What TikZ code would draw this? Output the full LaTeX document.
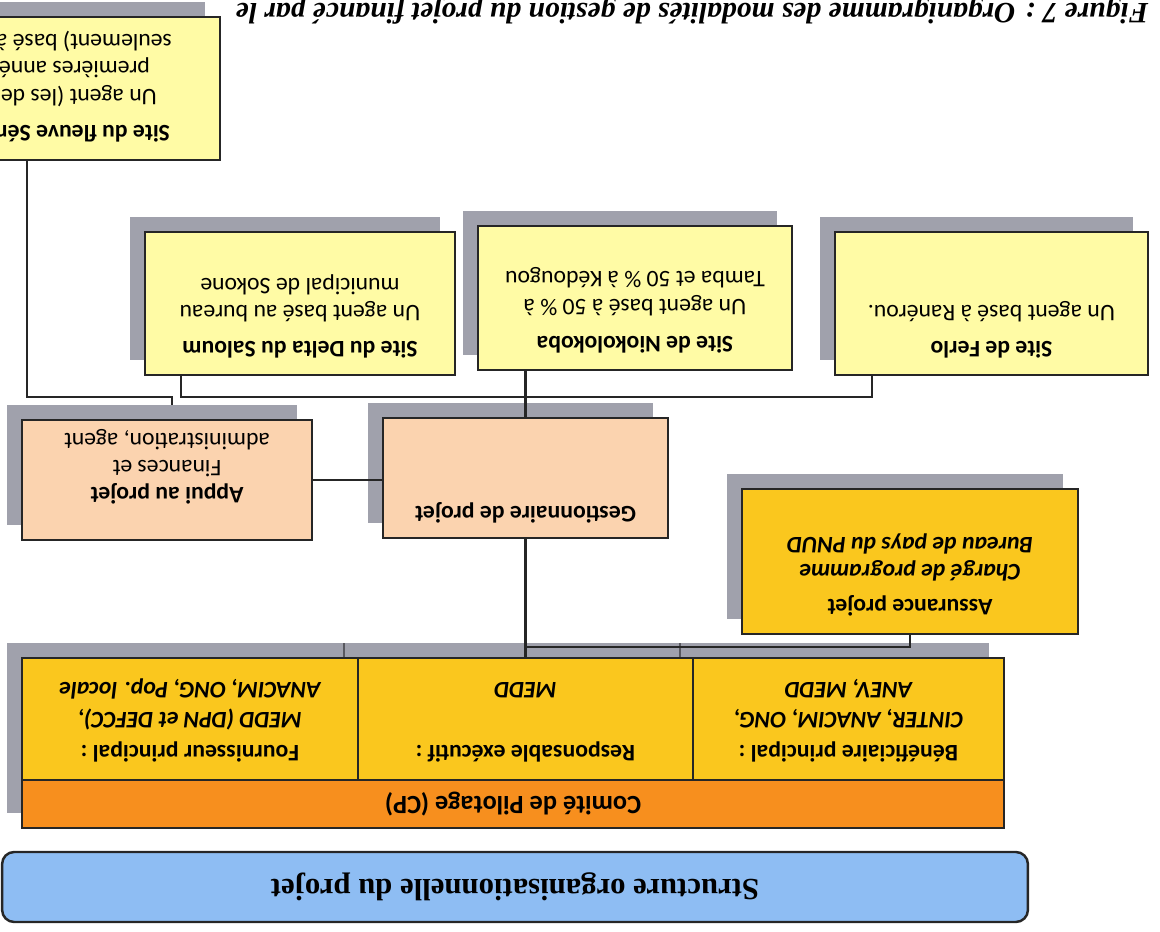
\documentclass[tikz,border=0pt]{standalone}
\usepackage{fontspec}
\setmainfont{Carlito}
\newfontfamily\serifbold{Liberation Serif}
\usepackage{tikz}
\usetikzlibrary{positioning}

\definecolor{siteyellow}{RGB}{255,251,165}
\definecolor{peach}{RGB}{251,211,175}
\definecolor{gold}{RGB}{250,199,30}
\definecolor{cporange}{RGB}{247,143,30}
\definecolor{titleblue}{RGB}{142,189,243}
\definecolor{shadowgrey}{RGB}{160,161,172}

% text of a box: width, height, top padding, lines
\newcommand{\boxtext}[4]{\parbox[c][#2][t]{#1}{\centering\vspace*{#3}\strut#4}}

\tikzset{
  orgbox/.style={draw=black!85, line width=1.4pt, inner sep=0pt, rotate=180},
  shadowbox/.style={fill=shadowgrey, inner sep=0pt, rotate=180},
  link/.style={line width=1.5pt, black!85},
}

\begin{document}
\begin{tikzpicture}[x=0.02cm, y=-0.02cm, every node/.append style={font=\fontsize{13.5}{15.5}\selectfont}]
\useasboundingbox (0,0) rectangle (1160,932);
\clip (0,0) rectangle (1160,932);

% caption, cut by the border
\node[rotate=180, anchor=north, inner sep=0pt, font=\serifbold\bfseries\itshape\fontsize{16.8}{18}\selectfont] (caption) at (692,25) {Figure 7 : Organigramme des modalités de gestion du projet financé par le};

% shadows
\node[shadowbox, minimum width=6.2cm, minimum height=2.86cm] (fleuve-sh) at (50,73.5) {};
\node[shadowbox, minimum width=6.2cm, minimum height=2.86cm] (delta-sh) at (285,288.5) {};
\node[shadowbox, minimum width=6.28cm, minimum height=2.88cm] (nioko-sh) at (620,283) {};
\node[shadowbox, minimum width=6.26cm, minimum height=2.86cm] (ferlo-sh) at (976.5,288.5) {};
\node[shadowbox, minimum width=5.8cm, minimum height=2.4cm] (appui-sh) at (152,465) {};
\node[shadowbox, minimum width=5.7cm, minimum height=2.4cm] (gestion-sh) at (510.5,463) {};
\node[shadowbox, minimum width=6.72cm, minimum height=2.9cm] (assurance-sh) at (895,546.5) {};
\node[shadowbox, minimum width=19.64cm, minimum height=3.4cm] (comite-sh) at (498,728) {};
\draw[shadowgrey!55!black, line width=0.8pt] (344,643) -- (344,658) (680,643) -- (680,658);

% sites
\node[orgbox, fill=siteyellow] (fleuve) at (65,88.5) {\parbox[c][2.86cm][t]{6.2cm}{\raggedright\leftskip=1.0cm\vspace*{9pt}\strut\textbf{Site du fleuve Sénégal}\\[5pt]\hspace*{0.26cm}Un agent (les deux\\\hspace*{0.4cm}premières années\\\hspace*{-0.04cm}seulement) basé à}};
\node[orgbox, fill=siteyellow] (delta) at (300,303.5) {\boxtext{6.2cm}{2.86cm}{8pt}{\textbf{Site du Delta du Saloum}\\[5pt]Un agent basé au bureau\\municipal de Sokone}};
\node[orgbox, fill=siteyellow] (nioko) at (635,298) {\boxtext{6.28cm}{2.88cm}{8pt}{\textbf{Site de Niokolokoba}\\[6pt]Un agent basé à 50 \% à\\Tamba et 50 \% à Kédougou}};
\node[orgbox, fill=siteyellow] (ferlo) at (991.5,303.5) {\boxtext{6.26cm}{2.86cm}{8pt}{\textbf{Site de Ferlo}\\[5pt]Un agent basé à Ranérou.}};

% gestion
\node[orgbox, fill=peach] (appui) at (167,480) {\boxtext{5.8cm}{2.4cm}{19pt}{\textbf{Appui au projet}\\Finances et\\administration, agent}};
\node[orgbox, fill=peach] (gestion) at (525.5,478) {\boxtext{5.7cm}{2.4cm}{7pt}{\textbf{Gestionnaire de projet}}};
\node[orgbox, fill=gold] (assurance) at (910,561.5) {\boxtext{6.72cm}{2.9cm}{9pt}{\textbf{Assurance projet}\\[4pt]\textbf{\textit{Chargé de programme}}\\\textbf{\textit{Bureau de pays du PNUD}}}};

% comite de pilotage
\node[orgbox, fill=gold] (fourn) at (190,719) {\boxtext{6.72cm}{2.44cm}{9pt}{\textbf{Fournisseur principal :}\\[3pt]\textbf{\textit{MEDD (DPN et DEFCC),}}\\[1.5pt]\textbf{\textit{ANACIM, ONG, Pop. locale}}}};
\node[orgbox, fill=gold] (resp) at (525.5,719) {\boxtext{6.7cm}{2.44cm}{9pt}{\textbf{Responsable exécutif :}\\[3pt]~\\[1.5pt]\textbf{\textit{MEDD}}}};
\node[orgbox, fill=gold] (benef) at (848.5,719) {\boxtext{6.22cm}{2.44cm}{9pt}{\textbf{Bénéficiaire principal :}\\[3pt]\textbf{\textit{CINTER, ANACIM, ONG,}}\\[1.5pt]\textbf{\textit{ANEV, MEDD}}}};
\node[orgbox, fill=cporange, minimum width=19.64cm, minimum height=0.96cm, font=\bfseries\fontsize{15}{16}\selectfont] (comite) at (513,804) {Comité de Pilotage (CP)};

\node[orgbox, fill=titleblue, rounded corners=0.24cm, minimum width=20.52cm, minimum height=1.4cm, font=\serifbold\bfseries\fontsize{17.5}{20}\selectfont] (structure) at (515,887) {Structure organisationnelle du projet};

% connectors
\draw[link] (27,0 |- fleuve.north) -- (27,397) -- (172,397) -- (172,0 |- appui-sh.south);
\draw[link] (181,0 |- delta.north) -- (181,397) -- (872,397) -- (872,0 |- ferlo.north);
\draw[link] (gestion.south) -- (gestion.south |- nioko.north);
\draw[link] (appui.west) -- (appui.west -| gestion.east);
\draw[link] (gestion.north) -- (gestion.north |- resp.south);
\draw[link] (gestion.north |- 0,647) -| (assurance.north);
\end{tikzpicture}
\end{document}
